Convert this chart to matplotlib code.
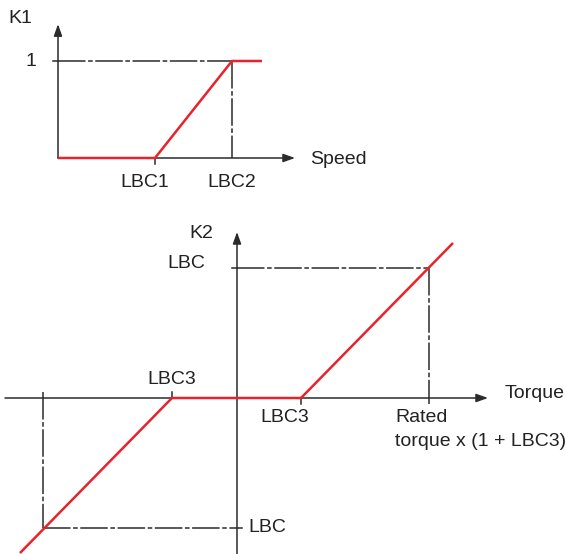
import matplotlib.pyplot as plt

plt.rcParams['font.family'] = ['Liberation Sans', 'DejaVu Sans']

# upper diagram: K1 against speed
speed_pts = [0.0, 0.97, 1.74, 2.04]
k1_pts = [0.0, 0.0, 1.0, 1.0]
lbc1 = 0.97
lbc2 = 1.74
speed_labels = ['LBC1', 'LBC2']

# lower diagram: K2 against torque
torque_pts = [-2.17, -0.65, 0.64, 2.16]
k2_pts = [-1.55, 0.0, 0.0, 1.55]
lbc3_neg = -0.65
lbc3_pos = 0.64
rated = 1.92
rated_neg = -1.94
lbc = 1.30

W, H = 566, 554
fig = plt.figure(figsize=(W / 100, H / 100), dpi=100)

AX = '#2b2b2b'
RED = '#e8232b'
DASH = (0, (18, 1.7, 3, 1.7))
FS = 14


def frame(box, origin, sx, sy):
    # axes covering a pixel box, with the data origin at a given pixel
    left, top, right, bottom = box
    ax = fig.add_axes([left / W, 1 - bottom / H, (right - left) / W, (bottom - top) / H])
    ox, oy = origin
    ax.set_xlim((left - ox) / sx, (right - ox) / sx)
    ax.set_ylim((oy - bottom) / sy, (oy - top) / sy)
    ax.axis('off')
    return ax


def arrow(ax, start, end):
    ax.annotate('', xy=end, xytext=start,
                arrowprops=dict(arrowstyle='-|>,head_length=0.7,head_width=0.25',
                                color=AX, lw=1.1, shrinkA=0, shrinkB=0,
                                mutation_scale=10))


# ---- top ----
top = frame((0, 0, 566, 215), (58, 158), 100, 97)
arrow(top, (0, 0), (2.37, 0))
arrow(top, (0, 0), (0, 1.38))
top.plot([0, lbc2], [1, 1], color=AX, lw=1.1, ls=DASH)
top.plot([lbc2, lbc2], [1, 0], color=AX, lw=1.1, ls=DASH)
top.plot([-0.05, 0], [1, 1], color=AX, lw=1.1)
top.plot([lbc1, lbc1], [0, -0.06], color=AX, lw=1.1)
top.plot(speed_pts, k1_pts, color=RED, lw=1.8, solid_capstyle='butt', zorder=3)

top.text(-0.38, 1.44, 'K1', fontsize=FS, ha='center', va='center', color='#222')
top.text(-0.22, 1.0, '1', fontsize=FS, ha='right', va='center', color='#222')
top.text(lbc1 - 0.1, -0.25, speed_labels[0], fontsize=FS, ha='center', va='center', color='#222')
top.text(lbc2, -0.25, speed_labels[1], fontsize=FS, ha='center', va='center', color='#222')
top.text(2.52, -0.02, 'Speed', fontsize=FS, ha='left', va='center', color='#222')

# ---- bottom ----
bot = frame((0, 215, 566, 554), (237, 398), 100, 100)
arrow(bot, (-2.32, 0), (2.51, 0))
arrow(bot, (0, -1.6), (0, 1.66))

bot.plot([0, rated], [lbc, lbc], color=AX, lw=1.1, ls=DASH)
bot.plot([rated, rated], [lbc, -0.06], color=AX, lw=1.1, ls=DASH)
bot.plot([-0.05, 0], [lbc, lbc], color=AX, lw=1.1)
bot.plot([rated_neg, 0], [-lbc, -lbc], color=AX, lw=1.1, ls=DASH)
bot.plot([rated_neg, rated_neg], [0.06, -lbc], color=AX, lw=1.1, ls=DASH)
bot.plot([0, 0.05], [-lbc, -lbc], color=AX, lw=1.1)
bot.plot([lbc3_neg, lbc3_neg], [0, 0.06], color=AX, lw=1.1)
bot.plot([lbc3_pos, lbc3_pos], [0, -0.06], color=AX, lw=1.1)
bot.plot(torque_pts, k2_pts, color=RED, lw=1.8, solid_capstyle='butt', zorder=3)

bot.text(-0.36, 1.64, 'K2', fontsize=FS, ha='center', va='center', color='#222')
bot.text(-0.32, 1.35, 'LBC', fontsize=FS, ha='right', va='center', color='#222')
bot.text(lbc3_neg, 0.18, 'LBC3', fontsize=FS, ha='center', va='center', color='#222')
bot.text(0.48, -0.20, 'LBC3', fontsize=FS, ha='center', va='center', color='#222')
bot.text(1.58, -0.20, 'Rated', fontsize=FS, ha='left', va='center', color='#222')
bot.text(1.58, -0.44, 'torque x (1 + LBC3)', fontsize=FS, ha='left', va='center', color='#222')
bot.text(2.68, 0.05, 'Torque', fontsize=FS, ha='left', va='center', color='#222')
bot.text(0.11, -lbc, 'LBC', fontsize=FS, ha='left', va='center', color='#222')

fig.savefig('out.png', dpi=100)
